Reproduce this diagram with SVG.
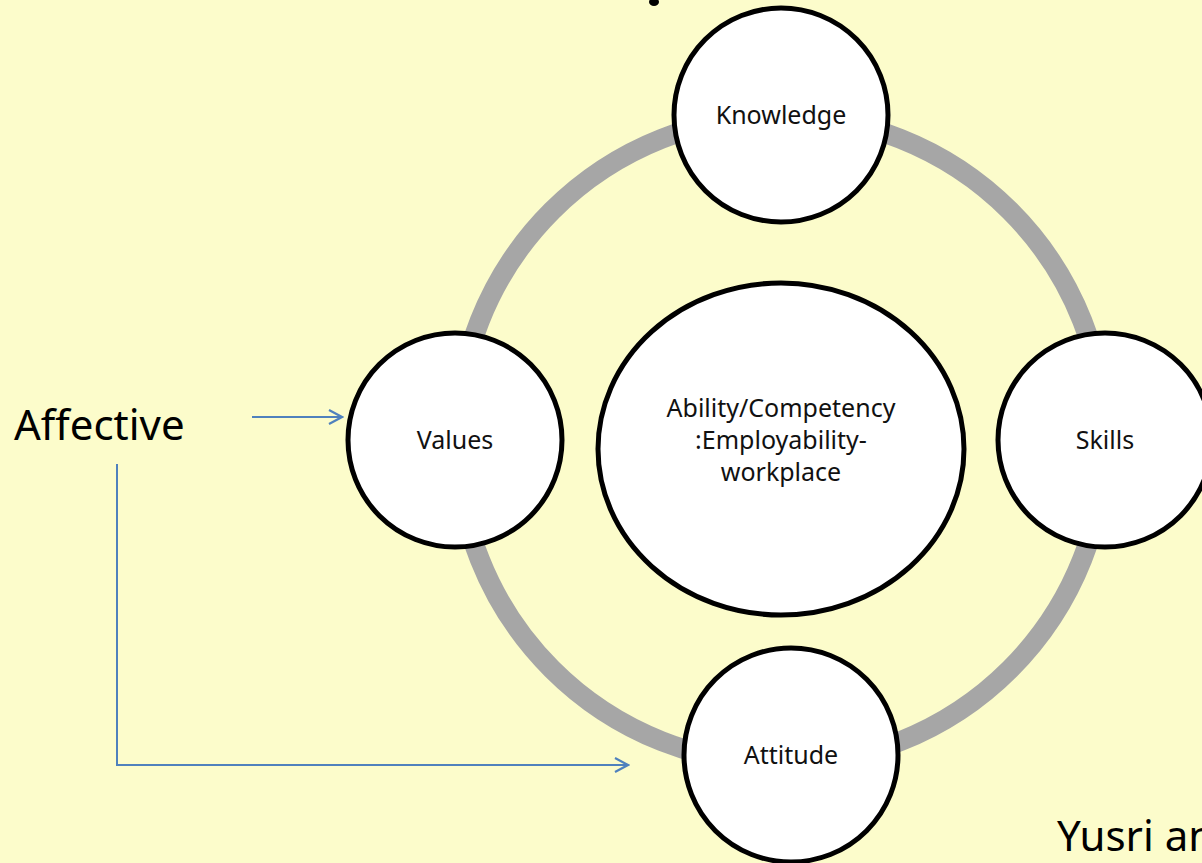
<svg xmlns="http://www.w3.org/2000/svg" width="1202" height="863" viewBox="0 0 1202 863">
<defs>
<style>
.node{fill:#ffffff;stroke:#000000;stroke-width:5}
.lbl{font-family:"Noto Sans","Liberation Sans",sans-serif;font-size:25px;fill:#111111;text-anchor:middle}
.big{font-family:"Noto Sans","Liberation Sans",sans-serif;font-size:42px;fill:#000000}
.conn{fill:none;stroke:#4f81bd;stroke-width:2}
</style>
<marker id="chev" viewBox="0 0 16 16" refX="14" refY="8" markerWidth="16" markerHeight="16" markerUnits="userSpaceOnUse" orient="auto">
<path d="M1,1 L14,8 L1,15" fill="none" stroke="#4f81bd" stroke-width="2.2"/>
</marker>
</defs>
<rect x="0" y="0" width="1202" height="863" fill="#fcfccb"/>
<ellipse cx="654" cy="2" rx="5" ry="4" fill="#000000"/>
<g id="ring">
<circle cx="781" cy="440" r="324" fill="none" stroke="#a6a6a6" stroke-width="20"/>
</g>
<g id="connectors">
<path class="conn" d="M252,417 L342,417" marker-end="url(#chev)"/>
<path class="conn" d="M117,464 L117,765 L628,765" marker-end="url(#chev)"/>
</g>
<g id="center">
<ellipse class="node" cx="781" cy="449" rx="183" ry="166"/>
<text class="lbl" x="781" y="417">Ability/Competency</text>
<text class="lbl" x="781" y="449">:Employability-</text>
<text class="lbl" x="781" y="481">workplace</text>
</g>
<g id="knowledge">
<circle class="node" cx="781" cy="115" r="107"/>
<text class="lbl" x="781" y="124">Knowledge</text>
</g>
<g id="values">
<circle class="node" cx="455" cy="440" r="107"/>
<text class="lbl" x="455" y="449">Values</text>
</g>
<g id="skills">
<circle class="node" cx="1105" cy="440" r="107"/>
<text class="lbl" x="1105" y="449">Skills</text>
</g>
<g id="attitude">
<circle class="node" cx="791" cy="755" r="107"/>
<text class="lbl" x="791" y="764">Attitude</text>
</g>
<g id="affective">
<text class="big" x="14" y="440">Affective</text>
</g>
<text class="big" x="1057" y="851">Yusri an</text>
</svg>
